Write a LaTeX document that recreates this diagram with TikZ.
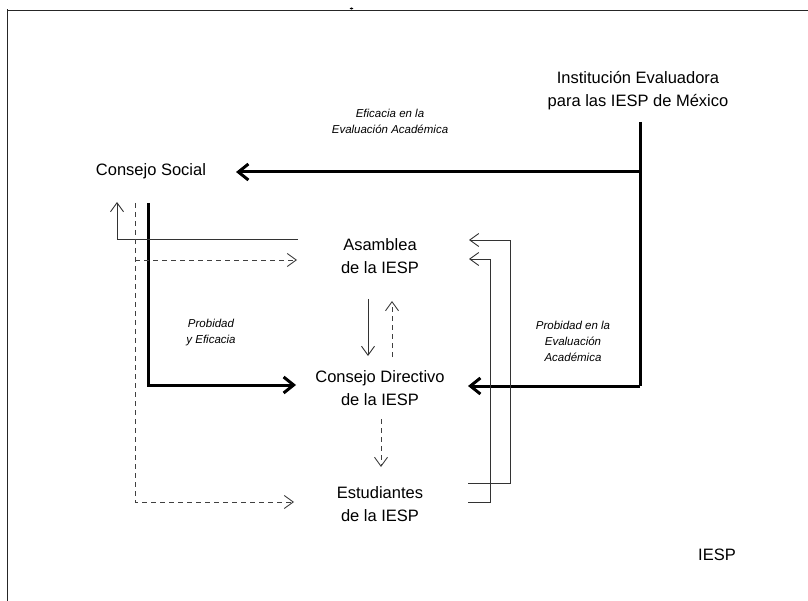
\documentclass[tikz,border=0pt]{standalone}
\usepackage{fontspec}
\setmainfont{Liberation Sans}
\usetikzlibrary{arrows.meta}
\begin{document}
\begin{tikzpicture}[x=1pt,y=-1pt,
  lbl/.style={inner sep=0pt,align=center,font=\fontsize{16.5}{23}\selectfont},
  itl/.style={inner sep=0pt,align=center,font=\fontsize{11.5}{16}\selectfont\itshape},
  heavy/.style={line width=3pt,-{Straight Barb[length=10pt,width=16pt,line width=3pt]}},
  heavyline/.style={line width=3pt},
  thinarr/.style={line width=0.9pt,draw=black!80,-{Straight Barb[length=9pt,width=13pt,line width=0.9pt]}},
  dasharr/.style={line width=0.9pt,draw=black!75,dash pattern=on 5pt off 4pt,-{Straight Barb[length=9pt,width=13pt,line width=0.9pt]}},
  frameline/.style={line width=1pt,draw=black!85}]
\useasboundingbox (0,0) rectangle (808,601);
% frame
\coordinate (f1) at (7,601);
\coordinate (f2) at (7,9);
\coordinate (f3) at (808,10.5);
\coordinate (f4) at (7,10.5);
\draw[frameline] (f1) -- (f2);
\draw[frameline] (f4) -- (f3);
\fill (351.5,8.5) ellipse (1.8pt and 1.1pt);
% nodes
\node[lbl] (ie) at (638,91) {Institución Evaluadora\\para las IESP de México};
\node[lbl] (cs) at (151,171) {Consejo Social};
\node[lbl] (as) at (380,256) {Asamblea\\de la IESP};
\node[lbl] (cd) at (380,388) {Consejo Directivo\\de la IESP};
\node[lbl] (es) at (380,504) {Estudiantes\\de la IESP};
\node[itl] (l1) at (390,121) {Eficacia en la\\Evaluación Académica};
\node[itl] (l2) at (211,333) {Probidad\\y Eficacia};
\node[itl] (l3) at (573,341) {Probidad en la\\Evaluación\\Académica};
\node[lbl] (iesp) at (717,555) {IESP};
% heavy lines from Institución
\coordinate (ieTop) at (640,122);
\coordinate (ieMid) at (640,172);
\coordinate (ieBot) at (640,386);
\coordinate (csTip) at (236,172);
\coordinate (cdTipR) at (468,386);
\draw[heavyline] (ieTop) -- (ieBot);
\draw[heavy] (ieMid) -- (csTip);
\draw[heavy] (ieBot) -- (cdTipR);
% heavy from Consejo Social to Consejo Directivo
\coordinate (csV) at (148,203);
\coordinate (csC) at (148,385);
\coordinate (cdTipL) at (296,385);
\draw[heavy] (csV) -- (csC) -- (cdTipL);
% thin solid from Asamblea back up to Consejo Social
\coordinate (asL) at (298,239);
\coordinate (cnr) at (117,239);
\coordinate (csTipB) at (117,202);
\draw[thinarr] (asL) -- (cnr) -- (csTipB);
% dashed from Consejo Social
\coordinate (dTop) at (135,203);
\coordinate (dMid) at (135,260);
\coordinate (dBot) at (135,502);
\coordinate (asTipD) at (297,260);
\coordinate (esTipD) at (294,502);
\draw[dasharr] (dTop) -- (dBot) -- (esTipD);
\draw[dasharr] (dMid) -- (asTipD);
% between Asamblea and Consejo Directivo
\coordinate (a1) at (368,299);
\coordinate (a2) at (368,356);
\draw[thinarr] (a1) -- (a2);
\coordinate (b1) at (392,357);
\coordinate (b2) at (392,301);
\draw[dasharr] (b1) -- (b2);
% Consejo Directivo to Estudiantes
\coordinate (c1) at (381,419);
\coordinate (c2) at (381,467);
\draw[dasharr] (c1) -- (c2);
% Estudiantes back to Asamblea
\coordinate (o1) at (468,483);
\coordinate (o2) at (510,483);
\coordinate (o3) at (510,240);
\coordinate (o4) at (469,240);
\draw[thinarr] (o1) -- (o2) -- (o3) -- (o4);
\coordinate (i1) at (468,502);
\coordinate (i2) at (490,502);
\coordinate (i3) at (490,259);
\coordinate (i4) at (469,259);
\draw[thinarr] (i1) -- (i2) -- (i3) -- (i4);
\end{tikzpicture}
\end{document}
